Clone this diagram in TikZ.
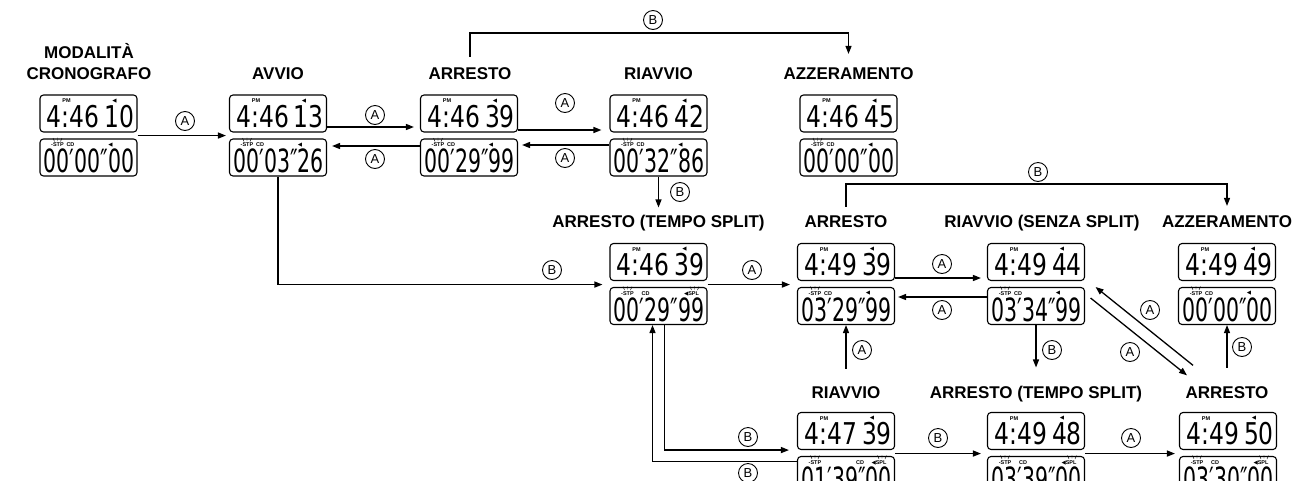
\documentclass[tikz,border=0pt]{standalone}
\usepackage{fontspec}
\setmainfont{Liberation Sans}
\newfontfamily\lcdtf[FakeStretch=0.78]{DejaVu Sans}
\newfontfamily\lcdbf[FakeStretch=0.64]{DejaVu Sans}
\newfontfamily\symf{DejaVu Sans}
\usetikzlibrary{arrows.meta}
% top display: name, x, y, digits
\newcommand\lcdtop[4]{%
  \node[scr] (#1t) at (#2,#3) {};
  \node[tinyt] (#1pm) at (#2-22,#3-12.5) {PM};
  \node[flag] (#1fa) at (#2+26,#3-12.5) {◀};
  \node[lcdt] (#1dt) at (#2+46,#3+13.5) {#4};
}
% bottom display: name, x, y (top centre), digits, CD offset, split (0/1)
\newcommand\lcdbot[6]{%
  \node[scr] (#1b) at (#2,#3+44) {};
  \node[tinyt] (#1stp) at (#2-31,#3+31.5) {-STP};
  \draw[ray] (#2-34,#3+28)--(#2-35.5,#3+24.5) (#2-31,#3+27.5)--(#2-31,#3+24) (#2-28,#3+28)--(#2-26.5,#3+24.5);
  \node[tinyt] (#1cd) at (#2+#5,#3+31.5) {CD};
  \ifnum#6=1
    \node[tinyt] (#1spl) at (#2+33,#3+31.5) {{\symf ◀}SPL};
    \draw[ray] (#2+33,#3+28)--(#2+31.5,#3+24.5) (#2+36,#3+27.5)--(#2+36,#3+24) (#2+39,#3+28)--(#2+40.5,#3+24.5);
  \else
    \node[flag] (#1fb) at (#2+22,#3+31.5) {◀};
  \fi
  \node[lcdb] (#1db) at (#2+46,#3+59) {#4};
}
\begin{document}
\begin{tikzpicture}[x=1pt,y=-1pt,
  scr/.style={draw, rounded corners=3.5pt, line width=1.1pt, minimum width=97pt, minimum height=37pt, inner sep=0pt},
  lab/.style={font=\bfseries\fontsize{17}{17}\selectfont, inner sep=0pt, anchor=base},
  key/.style={circle, draw, line width=0.9pt, inner sep=0pt, minimum size=19pt, font=\fontsize{13}{13}\selectfont},
  conn/.style={line width=1.3pt, -{Triangle[length=8pt,width=6pt]}},
  lcdt/.style={font=\lcdtf\fontsize{30}{30}\selectfont, inner sep=0pt, anchor=base east},
  lcdb/.style={font=\lcdbf\fontsize{32}{32}\selectfont, inner sep=0pt, anchor=base east},
  tinyt/.style={font=\bfseries\fontsize{5.5}{5.5}\selectfont, inner sep=0pt},
  flag/.style={font=\symf\fontsize{5.5}{5.5}\selectfont, inner sep=0pt},
  ray/.style={line width=0.45pt},
]
\useasboundingbox (0,0) rectangle (1295,480);
\fill[white] (0,0) rectangle (1295,480);
\clip (0,0) rectangle (1295,480);

% ---------- labels ----------
\node[lab] (la1m) at (89,58) {MODALITÀ};
\node[lab] (la1) at (89,79) {CRONOGRAFO};
\node[lab] (la2) at (278,79) {AVVIO};
\node[lab] (la3) at (470,79) {ARRESTO};
\node[lab] (la4) at (658.5,79) {RIAVVIO};
\node[lab] (la5) at (848.5,79) {AZZERAMENTO};
\node[lab] (lb1) at (658.5,227) {ARRESTO (TEMPO SPLIT)};
\node[lab] (lb2) at (846,227) {ARRESTO};
\node[lab] (lb3) at (1042,227) {RIAVVIO (SENZA SPLIT)};
\node[lab] (lb4) at (1227,227) {AZZERAMENTO};
\node[lab] (lc1) at (846,398) {RIAVVIO};
\node[lab] (lc2) at (1036,398) {ARRESTO (TEMPO SPLIT)};
\node[lab] (lc3) at (1227,398) {ARRESTO};

% ---------- displays ----------
\lcdtop{a1}{88.5}{113.5}{4:46\,10}
\lcdbot{a1}{88.5}{113.5}{00′00″00}{-18}{0}
\lcdtop{a2}{278}{113.5}{4:46\,13}
\lcdbot{a2}{278}{113.5}{00′03″26}{-18}{0}
\lcdtop{a3}{469}{113.5}{4:46\,39}
\lcdbot{a3}{469}{113.5}{00′29″99}{-18}{0}
\lcdtop{a4}{658.5}{113.5}{4:46\,42}
\lcdbot{a4}{658.5}{113.5}{00′32″86}{-18}{0}
\lcdtop{a5}{848.5}{113.5}{4:46\,45}
\lcdbot{a5}{848.5}{113.5}{00′00″00}{-18}{0}

\lcdtop{b1}{658.5}{262}{4:46\,39}
\lcdbot{b1}{658.5}{262}{00′29″99}{-13}{1}
\lcdtop{b2}{846}{262}{4:49\,39}
\lcdbot{b2}{846}{262}{03′29″99}{-18}{0}
\lcdtop{b3}{1036}{262}{4:49\,44}
\lcdbot{b3}{1036}{262}{03′34″99}{-18}{0}
\lcdtop{b4}{1227}{262}{4:49\,49}
\lcdbot{b4}{1227}{262}{00′00″00}{-18}{0}

\lcdtop{c1}{846}{431}{4:47\,39}
\lcdbot{c1}{846}{431}{01′39″00}{14}{1}
\lcdtop{c2}{1036}{431}{4:49\,48}
\lcdbot{c2}{1036}{431}{03′39″00}{-13}{1}
\lcdtop{c3}{1228}{431}{4:49\,50}
\lcdbot{c3}{1228}{431}{03′30″00}{-13}{1}

% ---------- row 1 connectors ----------
\draw[conn] ([yshift=-3pt]a1t.south east) -- ([xshift=-3pt,yshift=-3pt]a1t.south east -| a2t.west);
\draw[conn] ([yshift=-13.5pt]a2t.east) -- ([xshift=-6pt,yshift=-13.5pt]a2t.east -| a3t.west);
\draw[conn] ([yshift=11.5pt]a3b.west) -- ([xshift=5pt,yshift=11.5pt]a3b.west -| a2b.east);
\draw[conn] ([yshift=-16.5pt]a3t.east) -- ([xshift=-8pt,yshift=-16.5pt]a3t.east -| a4t.west);
\draw[conn] ([yshift=12.5pt]a4b.west) -- ([xshift=4pt,yshift=12.5pt]a4b.west -| a3b.east);
\coordinate (kB1) at (653,33);
\draw[conn] ([yshift=10pt]la3.north) |- (kB1) -| ([yshift=13pt]la5.north);
\draw[conn] (a2b.south) |- ([xshift=-7pt,yshift=-3.5pt]b1t.south west);
\draw[conn] (a4b.south) -- ([yshift=7pt]lb1.north);

% ---------- row 2 connectors ----------
\draw[conn] ([yshift=-3.5pt]b1t.south east) -- ([xshift=-7pt,yshift=-3.5pt]b1t.south east -| b2t.west);
\draw[conn] ([yshift=-16pt]b2t.east) -- ([xshift=-6pt,yshift=-16pt]b2t.east -| b3t.west);
\draw[conn] ([yshift=9pt]b3b.west) -- ([xshift=3pt,yshift=9pt]b3b.west -| b2b.east);
\coordinate (kB2) at (1038,184);
\draw[conn] ([yshift=8pt]lb2.north) |- (kB2) -| ([yshift=9pt]lb4.north);
\draw[conn] (b3b.south) -- ([yshift=18pt]lc2.north);
\draw[conn] ([xshift=5.5pt,yshift=8pt]b3b.east) -- ([xshift=-40pt,yshift=10.6pt]lc3.north);
\draw[conn] ([xshift=-34pt,yshift=20.6pt]lc3.north) -- ([xshift=10.5pt,yshift=19pt]b3b.east);
\draw[conn] ([yshift=18pt]lc3.north) -- (b4b.south);
\draw[conn] ([yshift=17pt]lc1.north) -- (b2b.south);

% ---------- row 3 connectors ----------
\draw[conn] ([yshift=-3.5pt]c1t.south east) -- ([xshift=-6pt,yshift=-3.5pt]c1t.south east -| c2t.west);
\draw[conn] ([yshift=-3.5pt]c2t.south east) -- ([xshift=-4pt,yshift=-3.5pt]c2t.south east -| c3t.west);
\draw[conn] ([xshift=6pt]b1b.south) |- ([xshift=-8pt]c1t.south west);
\draw[conn] ([yshift=-5.5pt]c1b.north west) -| ([xshift=-6pt]b1b.south);

% ---------- button keys ----------
\node[key] (k1) at (185,121) {A};
\node[key] (k2) at (375,115) {A};
\node[key] (k3) at (375,159) {A};
\node[key] (k4) at (565,103) {A};
\node[key] (k5) at (565,158) {A};
\node[key] (k6) at (653,20) {B};
\node[key] (k7) at (552,270) {B};
\node[key] (k8) at (680,192) {B};
\node[key] (k9) at (752,270) {A};
\node[key] (k10) at (942,264) {A};
\node[key] (k11) at (942,310) {A};
\node[key] (k12) at (1038,172) {B};
\node[key] (k13) at (1052,350) {B};
\node[key] (k14) at (1150,310) {A};
\node[key] (k15) at (1130,352) {A};
\node[key] (k16) at (1242,347) {B};
\node[key] (k17) at (862,350) {A};
\node[key] (k18) at (938,438) {B};
\node[key] (k19) at (1131,438) {A};
\node[key] (k20) at (748,437) {B};
\node[key] (k21) at (748,473) {B};
\end{tikzpicture}
\end{document}
